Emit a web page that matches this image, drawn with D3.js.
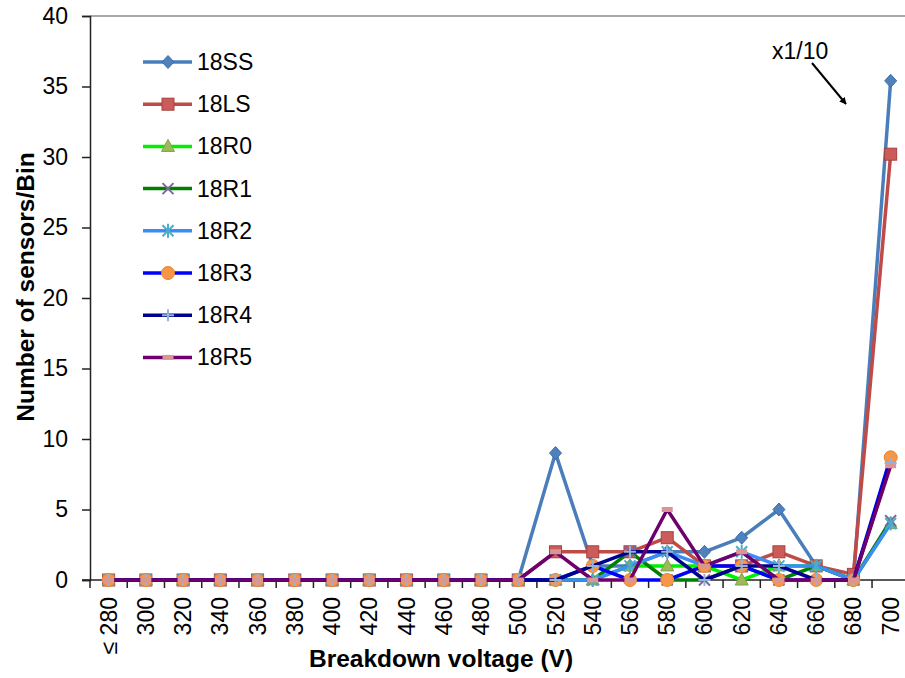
<!DOCTYPE html>
<html>
<head>
<meta charset="utf-8">
<script src="https://cdn.jsdelivr.net/npm/d3@7/dist/d3.min.js"></script>
<style>
  html, body { margin: 0; padding: 0; background: #fff; }
  svg { display: block; }
  text { font-family: "Liberation Sans", Arial, Helvetica, sans-serif; fill: #000; }
</style>
</head>
<body>
<svg id="chart" width="905" height="678"></svg>
<script>
// Breakdown voltage bins (V); the first bin collects everything at or below 280 V
const bins = [280, 300, 320, 340, 360, 380, 400, 420, 440, 460, 480,
              500, 520, 540, 560, 580, 600, 620, 640, 660, 680, 700];
const binLabels = ["≤ 280", "300", "320", "340", "360", "380", "400", "420", "440", "460", "480",
                   "500", "520", "540", "560", "580", "600", "620", "640", "660", "680", "700"];
const yTicks = [0, 5, 10, 15, 20, 25, 30, 35, 40];

// Number of sensors per bin for each sensor type (last bin shown scaled x1/10)
const s18SS = [0,0,0,0,0,0,0,0,0,0,0, 0, 9, 1, 1, 2, 2, 3, 5, 1, 0, 35.4];
const s18LS = [0,0,0,0,0,0,0,0,0,0,0, 0, 2, 2, 2, 3, 1, 1, 2, 1, 0.4, 30.2];
const s18R0 = [0,0,0,0,0,0,0,0,0,0,0, 0, 0, 0, 1, 1, 1, 0, 1, 1, 0, 4.0];
const s18R1 = [0,0,0,0,0,0,0,0,0,0,0, 0, 0, 0, 2, 0, 0, 1, 0, 1, 0, 4.2];
const s18R2 = [0,0,0,0,0,0,0,0,0,0,0, 0, 0, 0, 1, 2, 1, 2, 1, 1, 0, 4.0];
const s18R3 = [0,0,0,0,0,0,0,0,0,0,0, 0, 0, 1, 0, 0, 1, 1, 0, 0, 0, 8.7];
const s18R4 = [0,0,0,0,0,0,0,0,0,0,0, 0, 0, 1, 2, 2, 0, 1, 1, 0, 0, 8.3];
const s18R5 = [0,0,0,0,0,0,0,0,0,0,0, 0, 2, 0, 0, 5, 1, 2, 0, 0, 0, 8.1];

const seriesNames = ["18SS", "18LS", "18R0", "18R1", "18R2", "18R3", "18R4", "18R5"];
const seriesValues = [s18SS, s18LS, s18R0, s18R1, s18R2, s18R3, s18R4, s18R5];

// Line colour and marker style for each series
const styles = [
  { line: "#4A7EBB", marker: "diamond", fill: "#4F81BD", stroke: "#3D6DA8" },
  { line: "#BE4B48", marker: "square",  fill: "#CC5C59", stroke: "#A8403D" },
  { line: "#00F000", marker: "triangle", fill: "#9BBB59", stroke: "#80A048" },
  { line: "#008000", marker: "x",        fill: "none",    stroke: "#8064A2" },
  { line: "#3D8BF5", marker: "asterisk", fill: "none",    stroke: "#4BACC6" },
  { line: "#0000FF", marker: "circle",   fill: "#F79646", stroke: "#E88434" },
  { line: "#000090", marker: "plus",     fill: "none",    stroke: "#95B3D7" },
  { line: "#6E006E", marker: "dash",     fill: "#D99694", stroke: "none" }
];

const svg = d3.select("#chart");
const W = 905, H = 678;
const margin = { left: 90, top: 16, bottom: 98 };
const plotBottom = 580;

const x = d3.scaleBand()
  .domain(bins)
  .range([margin.left, margin.left + 22 * 37.24])
  .paddingInner(0).paddingOuter(0);

const y = d3.scaleLinear().domain([0, 40]).range([plotBottom, margin.top]);

const cx = b => x(b) + x.bandwidth() / 2;

// Top frame line
svg.append("line")
  .attr("x1", margin.left).attr("x2", W)
  .attr("y1", y(40)).attr("y2", y(40))
  .attr("stroke", "#8c8c8c").attr("stroke-width", 1.5);

// Y axis
const yAxis = svg.append("g")
  .attr("transform", `translate(${margin.left},0)`)
  .call(d3.axisLeft(y).tickValues(yTicks).tickSize(8).tickPadding(14).tickFormat(d3.format("d")));
yAxis.select(".domain").attr("stroke", "#222").attr("stroke-width", 1.5);
yAxis.selectAll(".tick line").attr("stroke", "#222").attr("stroke-width", 1.5);
yAxis.selectAll(".tick text").style("font-size", "23px").attr("fill", "#000");

// X axis: ticks sit on bin boundaries, labels centred in each bin
const xAxisG = svg.append("g").attr("transform", `translate(0,${plotBottom})`);
xAxisG.append("line")
  .attr("x1", margin.left - 8).attr("x2", W)
  .attr("y1", 0).attr("y2", 0)
  .attr("stroke", "#222").attr("stroke-width", 1.5);
const boundaries = d3.range(0, 23).map(i => margin.left + i * x.step());
xAxisG.selectAll("line.tk").data(boundaries.filter(v => v <= W)).join("line")
  .attr("class", "tk")
  .attr("x1", d => d).attr("x2", d => d)
  .attr("y1", 0).attr("y2", 8)
  .attr("stroke", "#222").attr("stroke-width", 1.5);
xAxisG.selectAll("text.lbl").data(bins).join("text")
  .attr("class", "lbl")
  .attr("transform", d => `translate(${cx(d) + 8},17) rotate(-90)`)
  .attr("text-anchor", "end")
  .style("font-size", "23px")
  .text((d, i) => binLabels[i]);

// Axis titles
svg.append("text")
  .attr("x", 441).attr("y", 667)
  .attr("text-anchor", "middle")
  .style("font-size", "24.5px").style("font-weight", "bold")
  .text("Breakdown voltage (V)");
svg.append("text")
  .attr("transform", "translate(34,287) rotate(-90)")
  .attr("text-anchor", "middle")
  .style("font-size", "24.5px").style("font-weight", "bold")
  .text("Number of sensors/Bin");

// Marker drawing
function drawMarker(g, type, st, size) {
  const s = size || 1;
  switch (type) {
    case "diamond":
      g.append("path").attr("d", `M0,${-6.5*s}L${6*s},0L0,${6.5*s}L${-6*s},0Z`)
        .attr("fill", st.fill).attr("stroke", st.stroke).attr("stroke-width", 1);
      break;
    case "square":
      g.append("rect").attr("x", -6*s).attr("y", -6*s).attr("width", 12*s).attr("height", 12*s)
        .attr("fill", st.fill).attr("stroke", st.stroke).attr("stroke-width", 1);
      break;
    case "triangle":
      g.append("path").attr("d", `M0,${-7*s}L${6.5*s},${5*s}L${-6.5*s},${5*s}Z`)
        .attr("fill", st.fill).attr("stroke", st.stroke).attr("stroke-width", 1);
      break;
    case "x":
      g.append("path").attr("d", `M${-5.5*s},${-5.5*s}L${5.5*s},${5.5*s}M${5.5*s},${-5.5*s}L${-5.5*s},${5.5*s}`)
        .attr("fill", "none").attr("stroke", st.stroke).attr("stroke-width", 2);
      break;
    case "asterisk":
      g.append("path").attr("d", `M${-5.5*s},${-5.5*s}L${5.5*s},${5.5*s}M${5.5*s},${-5.5*s}L${-5.5*s},${5.5*s}M0,${-7*s}L0,${7*s}`)
        .attr("fill", "none").attr("stroke", st.stroke).attr("stroke-width", 2);
      break;
    case "circle":
      g.append("circle").attr("r", 6.5*s)
        .attr("fill", st.fill).attr("stroke", st.stroke).attr("stroke-width", 1);
      break;
    case "plus":
      g.append("path").attr("d", `M${-6*s},0L${6*s},0M0,${-6*s}L0,${6*s}`)
        .attr("fill", "none").attr("stroke", st.stroke).attr("stroke-width", 2);
      break;
    case "dash":
      g.append("rect").attr("x", -5.5*s).attr("y", -2.5*s).attr("width", 11*s).attr("height", 5*s)
        .attr("fill", st.fill);
      break;
  }
}

// Series lines and markers (later series drawn on top)
const line = d3.line().x((d, i) => cx(bins[i])).y(d => y(d));
seriesValues.forEach((vals, k) => {
  const st = styles[k];
  const g = svg.append("g").attr("class", "series");
  g.append("path")
    .datum(vals)
    .attr("d", line)
    .attr("fill", "none")
    .attr("stroke", st.line)
    .attr("stroke-width", 3.5)
    .attr("stroke-linejoin", "round");
  vals.forEach((v, i) => {
    const mg = g.append("g").attr("transform", `translate(${cx(bins[i])},${y(v)})`);
    drawMarker(mg, st.marker, st);
  });
});

// Legend
const legend = svg.append("g");
const legendY0 = 62, legendDY = 42.2;
seriesNames.forEach((name, k) => {
  const st = styles[k];
  const ly = legendY0 + k * legendDY;
  legend.append("line")
    .attr("x1", 143).attr("x2", 192).attr("y1", ly).attr("y2", ly)
    .attr("stroke", st.line).attr("stroke-width", 3.5);
  const mg = legend.append("g").attr("transform", `translate(168,${ly})`);
  drawMarker(mg, st.marker, st);
  legend.append("text")
    .attr("x", 197).attr("y", ly + 8)
    .style("font-size", "23px")
    .text(name);
});

// Scale note for the last bin
svg.append("text")
  .attr("x", 772).attr("y", 59)
  .style("font-size", "23px")
  .text("x1/10");
svg.append("defs").append("marker")
  .attr("id", "arrowhead")
  .attr("viewBox", "0 0 10 10")
  .attr("refX", 9).attr("refY", 5)
  .attr("markerWidth", 7).attr("markerHeight", 7)
  .attr("markerUnits", "userSpaceOnUse")
  .attr("orient", "auto")
  .append("path").attr("d", "M0,0L10,5L0,10Z").attr("fill", "#000");
svg.append("line")
  .attr("x1", 812).attr("y1", 63).attr("x2", 846).attr("y2", 104)
  .attr("stroke", "#000").attr("stroke-width", 2)
  .attr("marker-end", "url(#arrowhead)");
</script>
</body>
</html>
